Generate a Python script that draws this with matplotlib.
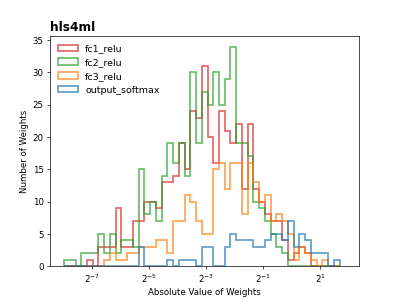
import numpy as np
import matplotlib
matplotlib.use("Agg")
import matplotlib.pyplot as plt

# log2 bin range of the histograms (48 equal bins in log2 space)
log2_lo, log2_hi, n_bins = -7.98, 1.68, 48

labels = ["fc1_relu", "fc2_relu", "fc3_relu", "output_softmax"]
colors = ["tab:red", "tab:green", "tab:orange", "tab:blue"]

fc1_relu = [0, 0, 0, 0, 1, 0, 3, 3, 3, 9, 3, 3, 7, 7, 10, 10, 9, 13, 13, 14,
            19, 15, 24, 23, 31, 20, 16, 24, 21, 19, 22, 12, 22, 12, 10, 8, 7, 7,
            4, 1, 2, 3, 2, 0, 0, 0, 0, 0]
fc2_relu = [1, 1, 0, 2, 2, 2, 5, 2, 5, 2, 4, 4, 3, 15, 8, 10, 7, 14, 19, 16,
            19, 14, 30, 19, 27, 25, 30, 25, 29, 34, 19, 19, 17, 10, 9, 7, 5, 3,
            2, 0, 0, 0, 0, 0, 0, 0, 0, 0]
fc3_relu = [0, 0, 0, 0, 0, 0, 0, 1, 2, 1, 1, 2, 2, 3, 3, 3, 4, 4, 2, 7,
            7, 11, 10, 7, 5, 5, 15, 16, 12, 16, 16, 8, 16, 13, 10, 11, 7, 8,
            7, 5, 1, 3, 2, 1, 0, 1, 0, 0]
output_softmax = [0, 0, 0, 0, 0, 0, 0, 0, 0, 0, 0, 0, 0, 3, 0, 0, 0, 0, 1, 0,
                  1, 1, 1, 0, 3, 3, 0, 0, 3, 5, 4, 4, 4, 3, 3, 4, 5, 5,
                  4, 7, 3, 5, 4, 2, 2, 2, 0, 1]

series = [fc1_relu, fc2_relu, fc3_relu, output_softmax]
xticks_pow = [-7, -5, -3, -1, 1]
xlim_log2 = (-8.477, 2.368)

edges = 2.0 ** np.linspace(log2_lo, log2_hi, n_bins + 1)
centers = np.sqrt(edges[:-1] * edges[1:])

fig = plt.figure(figsize=(6.4, 4.8), dpi=62.35)
ax = fig.add_subplot(111)
for lab, col, counts in zip(labels, colors, series):
    ax.hist(centers, bins=edges, weights=counts, histtype="step",
            color=col, label=lab, linewidth=2.0, alpha=0.7)

ax.set_xscale("log", base=2)
ax.set_xticks([2.0 ** p for p in xticks_pow])
ax.set_xticklabels([r"$2^{%d}$" % p for p in xticks_pow])
ax.xaxis.set_minor_locator(matplotlib.ticker.NullLocator())
ax.set_xlim(2.0 ** xlim_log2[0], 2.0 ** xlim_log2[1])
ax.set_xlabel("Absolute Value of Weights")
ax.set_ylabel("Number of Weights")
ax.set_title("hls4ml", loc="left", fontweight="bold", fontsize=14)
ax.legend(loc="upper left", frameon=False, fontsize=11)

fig.savefig("out.png", dpi=62.35)
